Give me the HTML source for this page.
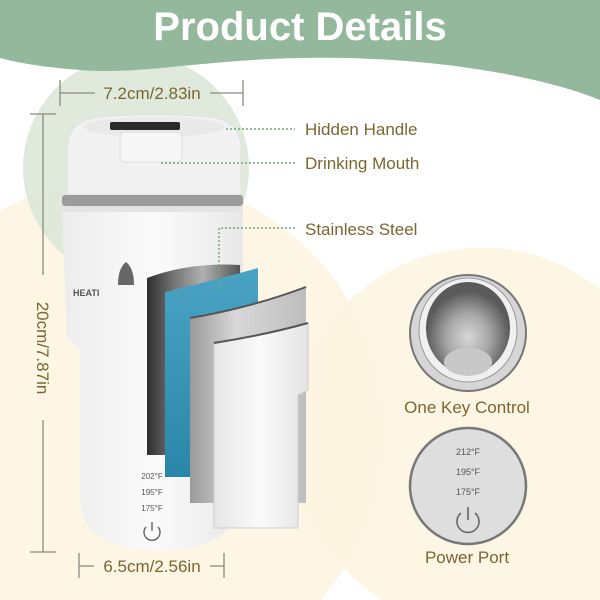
<!DOCTYPE html>
<html><head><meta charset="utf-8"><style>
html,body{margin:0;padding:0;background:#fff;width:600px;height:600px;overflow:hidden;}
svg{display:block;font-family:"Liberation Sans",sans-serif;}
</style></head><body>
<svg width="600" height="600" viewBox="0 0 600 600" xmlns="http://www.w3.org/2000/svg">
<defs>
<linearGradient id="steel" x1="0" x2="1"><stop offset="0" stop-color="#2e2e2e"/><stop offset=".3" stop-color="#777"/><stop offset=".6" stop-color="#b0b0b0"/><stop offset="1" stop-color="#555"/></linearGradient>
<linearGradient id="blue" x1="0" x2="0" y1="0" y2="1"><stop offset="0" stop-color="#4aa3c4"/><stop offset="1" stop-color="#2a86a8"/></linearGradient>
<linearGradient id="gray" x1="0" x2="1"><stop offset="0" stop-color="#9a9a9a"/><stop offset=".4" stop-color="#d8d8d8"/><stop offset="1" stop-color="#bdbdbd"/></linearGradient>
<linearGradient id="white" x1="0" x2="1"><stop offset="0" stop-color="#e6e6e6"/><stop offset=".5" stop-color="#fafafa"/><stop offset="1" stop-color="#e4e4e4"/></linearGradient>
<linearGradient id="body" x1="0" x2="1"><stop offset="0" stop-color="#ececec"/><stop offset=".5" stop-color="#fbfbfb"/><stop offset="1" stop-color="#e8e8e8"/></linearGradient>
<radialGradient id="cupin" cx=".5" cy=".6"><stop offset="0" stop-color="#d8d8d8"/><stop offset=".5" stop-color="#a8a8a8"/><stop offset="1" stop-color="#5a5a5a"/></radialGradient>
</defs>
<rect width="600" height="600" fill="#fff"/>
<path d="M0 211 A255 255 0 0 1 320 600 L0 600 Z" fill="#fdf5e0" opacity=".85"/>
<path d="M383 600 A190 190 0 1 1 600 289 L600 600 Z" fill="#fdf5e0" opacity=".85"/>
<circle cx="136" cy="168" r="113" fill="#dce8d8" opacity=".9"/>
<path d="M0 0 H600 V100 C540 75 420 55 300 58 C200 60 140 75 80 70 C40 67 15 62 0 58 Z" fill="#93b89b"/>
<text x="300" y="40" text-anchor="middle" font-size="40" font-weight="bold" fill="#fff">Product Details</text>

<g stroke="#8a8a80" stroke-width="1.3" fill="none">
<line x1="60" y1="80" x2="60" y2="106"/><line x1="243" y1="80" x2="243" y2="106"/>
<line x1="60" y1="93" x2="95" y2="93"/><line x1="210" y1="93" x2="243" y2="93"/>
<line x1="30" y1="114" x2="56" y2="114"/><line x1="30" y1="552" x2="56" y2="552"/>
<line x1="43" y1="114" x2="43" y2="275"/><line x1="43" y1="420" x2="43" y2="552"/>
<line x1="79" y1="553" x2="79" y2="578"/><line x1="224" y1="553" x2="224" y2="578"/>
<line x1="79" y1="566" x2="94" y2="566"/><line x1="210" y1="566" x2="224" y2="566"/>
</g>
<g fill="#7b6630" font-size="17">
<text x="152" y="99" text-anchor="middle">7.2cm/2.83in</text>
<text x="152" y="572" text-anchor="middle">6.5cm/2.56in</text>
<text transform="translate(37,348) rotate(90)" text-anchor="middle">20cm/7.87in</text>
<text x="305" y="135">Hidden Handle</text>
<text x="305" y="169">Drinking Mouth</text>
<text x="305" y="235">Stainless Steel</text>
<text x="467" y="413" text-anchor="middle">One Key Control</text>
<text x="467" y="563" text-anchor="middle">Power Port</text>
</g>

<path d="M62 205 H243 V337 L240 350 V500 Q236 550 160 550 Q82 550 80 500 V350 L67 337 Z" fill="url(#body)"/>
<path d="M67 195 V150 Q67 120 100 117 Q155 112 210 117 Q241 120 241 150 V195 Z" fill="#f1f1f1" stroke="#e0e0e0"/>
<ellipse cx="154" cy="127" rx="70" ry="10" fill="#e9e9e9"/>
<rect x="110" y="122" width="70" height="8" fill="#2a2a2a" rx="2"/>
<rect x="120" y="132" width="62" height="30" rx="5" fill="#f6f6f6" stroke="#ddd"/>
<rect x="62" y="195" width="181" height="11" fill="#9c9c9c" rx="3"/>
<path d="M62 206 H243 V212 H62Z" fill="#e4e4e4"/>
<text x="73" y="296" font-size="9" font-weight="bold" fill="#555">HEATI</text>
<path d="M118 285 Q118 268 126 262 Q134 268 134 285 Z" fill="#666"/>

<path d="M147 278 Q190 262 240 265 V455 H147 Z" fill="url(#steel)"/>
<path d="M165 292 Q215 280 258 268 V477 H165 Z" fill="url(#blue)"/>
<path d="M190 318 Q250 308 306 287 V503 H190 Z" fill="url(#gray)"/>
<path d="M190 318 Q250 308 306 287" stroke="#555" stroke-width="2" fill="none"/>
<path d="M214 343 Q265 335 308 323 V390 L298 395 V528 H214 Z" fill="url(#white)" stroke="#ccc"/>
<path d="M214 343 Q265 335 308 323" stroke="#555" stroke-width="2" fill="none"/>

<g stroke="#6faa7a" stroke-width="1.5" stroke-dasharray="2 2" fill="none">
<line x1="226" y1="129" x2="295" y2="129"/>
<line x1="161" y1="163" x2="295" y2="163"/>
<polyline points="219,290 219,228 297,228"/>
</g>

<g font-size="8" fill="#555" text-anchor="middle">
<text x="152" y="479">202°F</text><text x="152" y="495">195°F</text><text x="152" y="511">175°F</text>
</g>
<path d="M146 527 A8 8 0 1 0 158 527" fill="none" stroke="#666" stroke-width="1.4"/><line x1="152" y1="522" x2="152" y2="531" stroke="#666" stroke-width="1.4"/>

<circle cx="468" cy="333" r="58" fill="#d6d6d6" stroke="#777" stroke-width="2"/>
<ellipse cx="468" cy="330" rx="49" ry="52" fill="#f0f0f0" stroke="#999"/>
<ellipse cx="468" cy="328" rx="42" ry="46" fill="url(#cupin)"/>
<ellipse cx="468" cy="362" rx="24" ry="14" fill="#c8c8c8"/>
<circle cx="468" cy="486" r="58" fill="#dedede" stroke="#777" stroke-width="2.5"/>
<g font-size="9" fill="#555" text-anchor="middle">
<text x="468" y="455">212°F</text><text x="468" y="475">195°F</text><text x="468" y="495">175°F</text>
</g>
<path d="M461 513 A11 11 0 1 0 475 513" fill="none" stroke="#666" stroke-width="1.6"/><line x1="468" y1="507" x2="468" y2="520" stroke="#666" stroke-width="1.6"/>
</svg>
</body></html>
